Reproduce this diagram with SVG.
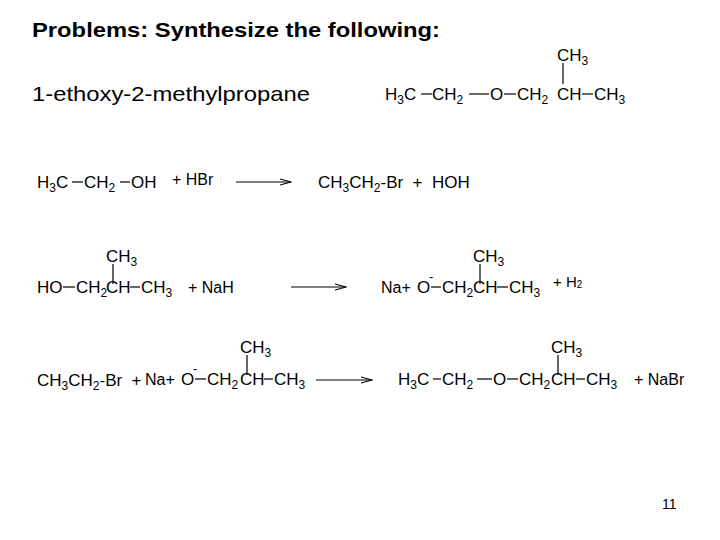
<svg xmlns="http://www.w3.org/2000/svg" width="720" height="540" viewBox="0 0 720 540">
<style>
text{font-family:"Liberation Sans",Arial,sans-serif;font-size:17px;fill:#000;white-space:pre}
.sub{font-size:12px}
line,path{stroke:#000;stroke-width:1.2;fill:none}
</style>
<defs>
<marker id="ah" markerWidth="12" markerHeight="8" refX="11" refY="4" orient="auto" markerUnits="userSpaceOnUse"><path d="M0,1 L11,4 L0,7"/></marker>
</defs>
<rect width="720" height="540" fill="#fff"/>
<g id="title"><text x="32" y="37" style="font-size:21px;font-weight:bold" textLength="408" lengthAdjust="spacingAndGlyphs">Problems: Synthesize the following:</text></g>
<g id="name"><text x="32" y="101" style="font-size:21px" textLength="278" lengthAdjust="spacingAndGlyphs">1-ethoxy-2-methylpropane</text></g>
<g id="target">
<text x="385" y="100">H<tspan class="sub" dy="4">3</tspan><tspan dy="-4">C</tspan></text>
<text x="432" y="100">CH<tspan class="sub" dy="4">2</tspan></text>
<text x="490" y="100">O</text>
<text x="517" y="100">CH<tspan class="sub" dy="4">2</tspan></text>
<text x="557" y="100">CH</text>
<text x="594" y="100">CH<tspan class="sub" dy="4">3</tspan></text>
<text x="557" y="61">CH<tspan class="sub" dy="4">3</tspan></text>
<line x1="421" y1="94" x2="432" y2="94"/><line x1="469" y1="94" x2="489" y2="94"/><line x1="504" y1="94" x2="516" y2="94"/><line x1="582" y1="94" x2="593" y2="94"/><line x1="563" y1="63" x2="563" y2="84"/>
</g>
<g id="row1">
<text x="37" y="188">H<tspan class="sub" dy="4">3</tspan><tspan dy="-4">C</tspan></text>
<text x="84" y="188">CH<tspan class="sub" dy="4">2</tspan></text>
<text x="131" y="188">OH</text>
<text x="172" y="185" style="font-size:16px">+ HBr</text>
<text x="318" y="188">CH<tspan class="sub" dy="4">3</tspan><tspan dy="-4">CH</tspan><tspan class="sub" dy="4">2</tspan><tspan dy="-4">-Br  +  HOH</tspan></text>
<line x1="72" y1="182" x2="83" y2="182"/><line x1="120" y1="182" x2="130" y2="182"/>
</g>
<g id="row2">
<text x="37" y="293">HO</text>
<text x="76" y="293">CH<tspan class="sub" dy="4">2</tspan></text>
<text x="106" y="293">CH</text>
<text x="141" y="293">CH<tspan class="sub" dy="4">3</tspan></text>
<text x="106" y="262">CH<tspan class="sub" dy="4">3</tspan></text>
<line x1="63" y1="287" x2="75" y2="287"/><line x1="130" y1="287" x2="140" y2="287"/><line x1="113" y1="264" x2="113" y2="284"/>
<text x="188" y="293" style="font-size:16px">+ NaH</text>
<text x="381" y="293" style="font-size:16px">Na+</text>
<text x="417" y="293">O</text><text x="429" y="281" style="font-size:13px">-</text>
<text x="442" y="293">CH<tspan class="sub" dy="4">2</tspan></text>
<text x="473" y="293">CH</text>
<text x="509" y="293">CH<tspan class="sub" dy="4">3</tspan></text>
<text x="473" y="262">CH<tspan class="sub" dy="4">3</tspan></text>
<line x1="431" y1="287" x2="441" y2="287"/><line x1="497" y1="287" x2="508" y2="287"/><line x1="480" y1="264" x2="480" y2="284"/>
<text x="553" y="287" style="font-size:15px">+ H<tspan style="font-size:10px" dy="1">2</tspan></text>
</g>
<g id="row3">
<text x="37" y="386">CH<tspan class="sub" dy="4">3</tspan><tspan dy="-4">CH</tspan><tspan class="sub" dy="4">2</tspan><tspan dy="-4">-Br  +</tspan></text>
<text x="145" y="385" style="font-size:16px">Na+</text>
<text x="181" y="385">O</text><text x="193" y="373" style="font-size:13px">-</text>
<text x="207" y="385">CH<tspan class="sub" dy="4">2</tspan></text>
<text x="240" y="385">CH</text>
<text x="274" y="385">CH<tspan class="sub" dy="4">3</tspan></text>
<text x="240" y="353">CH<tspan class="sub" dy="4">3</tspan></text>
<line x1="195" y1="379" x2="206" y2="379"/><line x1="264" y1="379" x2="273" y2="379"/><line x1="247" y1="355" x2="247" y2="375"/>
<text x="398" y="385">H<tspan class="sub" dy="4">3</tspan><tspan dy="-4">C</tspan></text>
<text x="442" y="385">CH<tspan class="sub" dy="4">2</tspan></text>
<text x="493" y="385">O</text>
<text x="519" y="385">CH<tspan class="sub" dy="4">2</tspan></text>
<text x="551" y="385">CH</text>
<text x="586" y="385">CH<tspan class="sub" dy="4">3</tspan></text>
<text x="551" y="353">CH<tspan class="sub" dy="4">3</tspan></text>
<line x1="433" y1="379" x2="441" y2="379"/><line x1="477" y1="379" x2="492" y2="379"/><line x1="507" y1="379" x2="518" y2="379"/><line x1="576" y1="379" x2="585" y2="379"/><line x1="558" y1="355" x2="558" y2="375"/>
<text x="634" y="385" style="font-size:16px">+ NaBr</text>
</g>
<g id="connectors">
<line x1="236" y1="182" x2="291" y2="182" marker-end="url(#ah)"/>
<line x1="291" y1="287" x2="346" y2="287" marker-end="url(#ah)"/>
<line x1="316" y1="380" x2="372" y2="380" marker-end="url(#ah)"/>
</g>
<text x="662" y="509" style="font-size:14px">11</text>
</svg>
